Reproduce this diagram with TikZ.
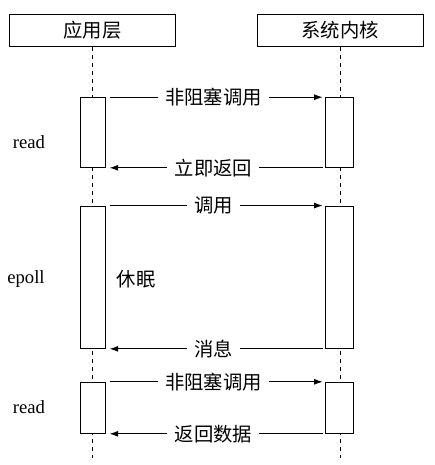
\documentclass[tikz,border=0pt]{standalone}
\usepackage{fontspec}
\setmainfont{Liberation Serif}
\newfontfamily\cjk{Noto Sans CJK SC}
\usetikzlibrary{arrows.meta}
\begin{document}
\begin{tikzpicture}[x=0.75pt,y=-0.75pt, line width=0.75pt,
  head/.style={draw, minimum width=124.5pt, minimum height=24pt, inner sep=0pt, font=\cjk\fontsize{14.5}{17}\selectfont},
  act/.style={draw, fill=white, inner sep=0pt},
  life/.style={dash pattern=on 3.5pt off 2.5pt},
  msg/.style={-{Latex[length=6.5pt,width=4.5pt]}},
  lbl/.style={fill=white, inner xsep=5.5pt, inner ysep=1pt, font=\cjk\fontsize{14.5}{17}\selectfont},
  side/.style={font=\fontsize{14}{17}\selectfont}]
\useasboundingbox (0,0) rectangle (435,465);
% headers
\node[head] (L) at (92.4,30) {应用层};
\node[head] (K) at (340.2,30) {系统内核};
\coordinate (Lend) at (92.4,458);
\coordinate (Kend) at (340.2,458);
\draw[life] (L.south) -- (Lend);
\draw[life] (K.south) -- (Kend);
% activation boxes
\node[act, minimum width=18.75pt, minimum height=52.2pt] (a1) at (92.5,132.5) {};
\node[act, minimum width=21pt, minimum height=52.2pt] (k1) at (339.9,132.5) {};
\node[act, minimum width=18.75pt, minimum height=106.7pt] (a2) at (92.5,277.2) {};
\node[act, minimum width=21pt, minimum height=106.7pt] (k2) at (339.9,277.2) {};
\node[act, minimum width=18.75pt, minimum height=38.25pt] (a3) at (92.5,407.8) {};
\node[act, minimum width=21pt, minimum height=38.25pt] (k3) at (339.9,407.8) {};
% messages
\draw[msg] ([xshift=3pt]a1.north east) -- node[lbl, xshift=-2pt]{非阻塞调用} ([xshift=-2pt]k1.north west);
\draw[msg] ([xshift=-2pt]k1.south west) -- node[lbl, xshift=-2pt]{立即返回} ([xshift=3pt]a1.south east);
\draw[msg] ([xshift=3pt]a2.north east) -- node[lbl, xshift=-2pt]{调用} ([xshift=-2pt]k2.north west);
\draw[msg] ([xshift=-2pt]k2.south west) -- node[lbl, xshift=-2pt]{消息} ([xshift=3pt]a2.south east);
\draw[msg] ([xshift=3pt]a3.north east) -- node[lbl, xshift=-2pt]{非阻塞调用} ([xshift=-2pt]k3.north west);
\draw[msg] ([xshift=-2pt]k3.south west) -- node[lbl, xshift=-2pt]{返回数据} ([xshift=3pt]a3.south east);
% side labels
\node[side] (s1) at (29,142) {read};
\node[side] (s2) at (26,279) {epoll};
\node[side] (s3) at (29,407) {read};
\node[lbl] (sleep) at (136,279) {休眠};
\end{tikzpicture}
\end{document}
